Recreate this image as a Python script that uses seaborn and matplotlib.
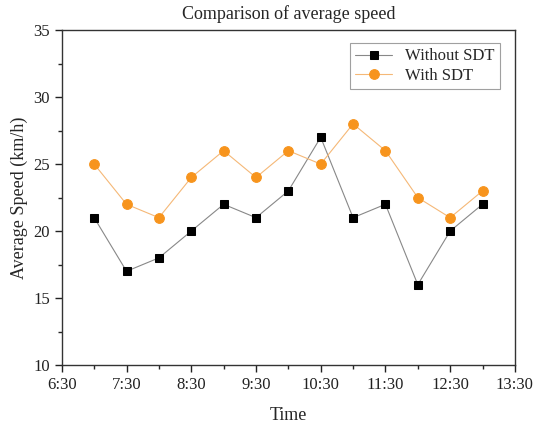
import matplotlib
matplotlib.use("Agg")
import matplotlib.pyplot as plt
import matplotlib.ticker as mticker
import seaborn as sns
import pandas as pd

times = ["7:00", "7:30", "8:00", "8:30", "9:00", "9:30", "10:00",
         "10:30", "11:00", "11:30", "12:00", "12:30", "13:00"]
without_sdt = [21, 17, 18, 20, 22, 21, 23, 27, 21, 22, 16, 20, 22]
with_sdt = [25, 22, 21, 24, 26, 24, 26, 25, 28, 26, 22.5, 21, 23]


def to_min(t):
    h, m = t.split(":")
    return int(h) * 60 + int(m)


minutes = [to_min(t) for t in times]
df = pd.DataFrame({
    "Time": minutes * 2,
    "Speed": without_sdt + with_sdt,
    "Series": ["Without SDT"] * len(times) + ["With SDT"] * len(times),
})

sns.set_style("ticks")
plt.rcParams["font.family"] = ["Liberation Serif", "DejaVu Serif"]

fig = plt.figure(figsize=(5.33, 4.24), dpi=100)
ax = fig.add_axes([0.116, 0.139, 0.85, 0.79])

sns.lineplot(data=df[df.Series == "Without SDT"], x="Time", y="Speed",
             ax=ax, color="#888888", lw=0.8, marker="s", markersize=6,
             markerfacecolor="black", markeredgecolor="black",
             label="Without SDT")
sns.lineplot(data=df[df.Series == "With SDT"], x="Time", y="Speed",
             ax=ax, color="#f5b877", lw=0.8, marker="o", markersize=7,
             markerfacecolor="#f7941d", markeredgecolor="#f7941d",
             label="With SDT")

ax.set_xlim(390, 810)
ax.set_ylim(10, 35)
ax.xaxis.set_major_locator(mticker.MultipleLocator(60, offset=30))
ax.xaxis.set_minor_locator(mticker.MultipleLocator(30))
ax.yaxis.set_major_locator(mticker.MultipleLocator(5))
ax.yaxis.set_minor_locator(mticker.MultipleLocator(2.5))
ax.xaxis.set_major_formatter(mticker.FuncFormatter(
    lambda v, p: "%d:%02d" % (int(round(v)) // 60, int(round(v)) % 60)))

ax.tick_params(which="major", direction="out", length=5, width=1,
               labelsize=12, colors="#222222")
ax.tick_params(which="minor", direction="out", length=3, width=1)
ax.tick_params(top=False, right=False)
for s in ax.spines.values():
    s.set_color("#333333")
    s.set_linewidth(1)

ax.set_xlabel("Time", fontsize=13, labelpad=10)
ax.set_ylabel("Average Speed (km/h)", fontsize=13, labelpad=4)
ax.set_title("Comparison of average speed", fontsize=13, pad=8)

leg = ax.legend(loc="upper right", fontsize=12, frameon=True, fancybox=False,
                edgecolor="#888888", borderpad=0.3, labelspacing=0.2,
                handlelength=2.2, bbox_to_anchor=(0.985, 0.985))
leg.get_frame().set_linewidth(0.8)

plt.savefig("out.png", dpi=100)
plt.close()
